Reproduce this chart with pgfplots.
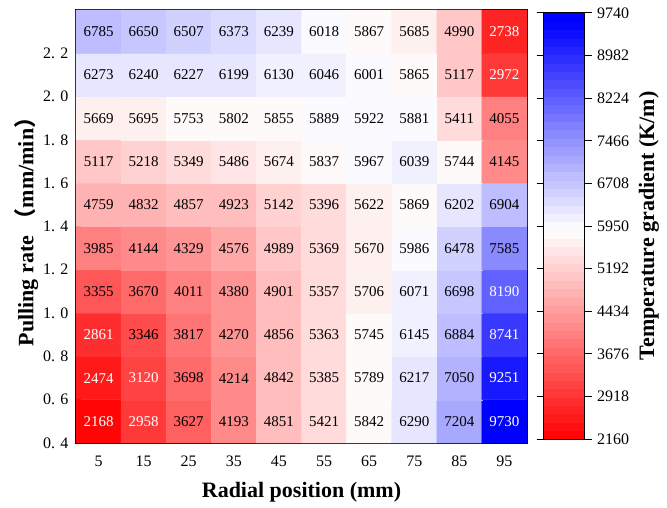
\documentclass[border=0pt]{standalone}
\usepackage{fontspec}
\setmainfont{Liberation Serif}
\newfontfamily\cjk{Noto Sans CJK SC}
\usepackage{pgfplots}
\usepackage{pgfplotstable}
\pgfplotsset{compat=1.18}

% banded red-white-blue colour scale: 50 bands, colour taken at each band's middle
\def\cmaplist{}
\foreach \i in {0,...,49}{%
  \pgfmathsetmacro\t{(\i+0.5)/50}%
  \pgfmathsetmacro\r{\t<0.5 ? 1 : 2*(1-\t)}%
  \pgfmathsetmacro\g{\t<0.5 ? 2*\t : 2*(1-\t)}%
  \pgfmathsetmacro\b{\t<0.5 ? 2*\t : 1}%
  \xdef\cmaplist{\cmaplist rgb=(\r,\g,\b) }%
}
\xdef\cmaplist{\cmaplist rgb=(0,0,1)}
\edef\tmp{\noexpand\pgfplotsset{colormap={rwb}{\cmaplist}}}\tmp

\pgfplotstableread{
x y z
5 0.5 2168
15 0.5 2958
25 0.5 3627
35 0.5 4193
45 0.5 4851
55 0.5 5421
65 0.5 5842
75 0.5 6290
85 0.5 7204
95 0.5 9730
5 0.7 2474
15 0.7 3120
25 0.7 3698
35 0.7 4214
45 0.7 4842
55 0.7 5385
65 0.7 5789
75 0.7 6217
85 0.7 7050
95 0.7 9251
5 0.9 2861
15 0.9 3346
25 0.9 3817
35 0.9 4270
45 0.9 4856
55 0.9 5363
65 0.9 5745
75 0.9 6145
85 0.9 6884
95 0.9 8741
5 1.1 3355
15 1.1 3670
25 1.1 4011
35 1.1 4380
45 1.1 4901
55 1.1 5357
65 1.1 5706
75 1.1 6071
85 1.1 6698
95 1.1 8190
5 1.3 3985
15 1.3 4144
25 1.3 4329
35 1.3 4576
45 1.3 4989
55 1.3 5369
65 1.3 5670
75 1.3 5986
85 1.3 6478
95 1.3 7585
5 1.5 4759
15 1.5 4832
25 1.5 4857
35 1.5 4923
45 1.5 5142
55 1.5 5396
65 1.5 5622
75 1.5 5869
85 1.5 6202
95 1.5 6904
5 1.7 5117
15 1.7 5218
25 1.7 5349
35 1.7 5486
45 1.7 5674
55 1.7 5837
65 1.7 5967
75 1.7 6039
85 1.7 5744
95 1.7 4145
5 1.9 5669
15 1.9 5695
25 1.9 5753
35 1.9 5802
45 1.9 5855
55 1.9 5889
65 1.9 5922
75 1.9 5881
85 1.9 5411
95 1.9 4055
5 2.1 6273
15 2.1 6240
25 2.1 6227
35 2.1 6199
45 2.1 6130
55 2.1 6046
65 2.1 6001
75 2.1 5865
85 2.1 5117
95 2.1 2972
5 2.3 6785
15 2.3 6650
25 2.3 6507
35 2.3 6373
45 2.3 6239
55 2.3 6018
65 2.3 5867
75 2.3 5685
85 2.3 4990
95 2.3 2738
}\data

\begin{document}
\begin{tikzpicture}
\begin{axis}[
  name=main,
  scale only axis, width=451pt, height=433pt,
  xmin=0, xmax=100, ymin=0.4, ymax=2.4,
  enlargelimits=false,
  xtick={5,15,...,95},
  ytick={0.4,0.6,0.8,1.0,1.2,1.4,1.6,1.8,2.0,2.2},
  yticklabels={0. 4,0. 6,0. 8,1. 0,1. 2,1. 4,1. 6,1. 8,2. 0,2. 2},
  tick align=inside, xtick pos=left, ytick pos=left,
  major tick length=5pt,
  tick style={black, line width=1pt},
  axis line style={line width=1.2pt},
  ticklabel style={font=\fontsize{16}{16}\selectfont},
  xticklabel style={yshift=-9pt},
  yticklabel style={xshift=-4pt},
  /pgf/number format/assume math mode=true,
  xlabel={Radial position (mm)},
  xlabel style={font=\fontsize{22}{22}\selectfont\bfseries, yshift=-9pt},
  ylabel={Pulling rate {\cjk （}mm/min{\cjk ）}},
  ylabel style={font=\fontsize{22}{22}\selectfont\bfseries},
  ylabel shift=-2pt,
  colormap name=rwb,
  colormap access=piecewise constant,
  point meta min=2160, point meta max=9740,
  colorbar,
  colorbar/width=41pt,
  colorbar style={
    at={(parent axis.north east)}, anchor=north west,
    xshift=8pt, yshift=-3pt,
    scale only axis, height=426pt,
    ytick={2160,2918,3676,4434,5192,5950,6708,7466,8224,8982,9740},
    scaled y ticks=false,
    /pgf/number format/1000 sep={},
    /pgf/number format/assume math mode=true,
    yticklabel style={font=\fontsize{16}{16}\selectfont, xshift=2pt},
    ylabel={Temperature gradient (K/m)},
    ylabel style={font=\fontsize{22}{22}\selectfont\bfseries},
    ylabel shift=3pt,
    tick align=outside, major tick length=7pt,
    tick style={black, line width=1pt},
    axis line style={line width=1pt},
  },
]
\addplot[matrix plot*, mesh/cols=10, point meta=explicit] table[x=x, y=y, meta=z] {\data};
\addplot[draw=none, mark=none, point meta=explicit symbolic,
  nodes near coords={\pgfmathtruncatemacro\w{or(\pgfplotspointmeta<3200,\pgfplotspointmeta>8000)}\ifnum\w=1 \color{white}\fi\pgfplotspointmeta},
  every node near coord/.append style={anchor=center, inner sep=0pt, font=\fontsize{15}{15}\selectfont},
] table[x=x, y=y, meta=z] {\data};
\end{axis}
\pgfresetboundingbox
\path (main.south west) ++(-76pt,-64pt) rectangle ++(667pt,507pt);
\end{tikzpicture}
\end{document}
